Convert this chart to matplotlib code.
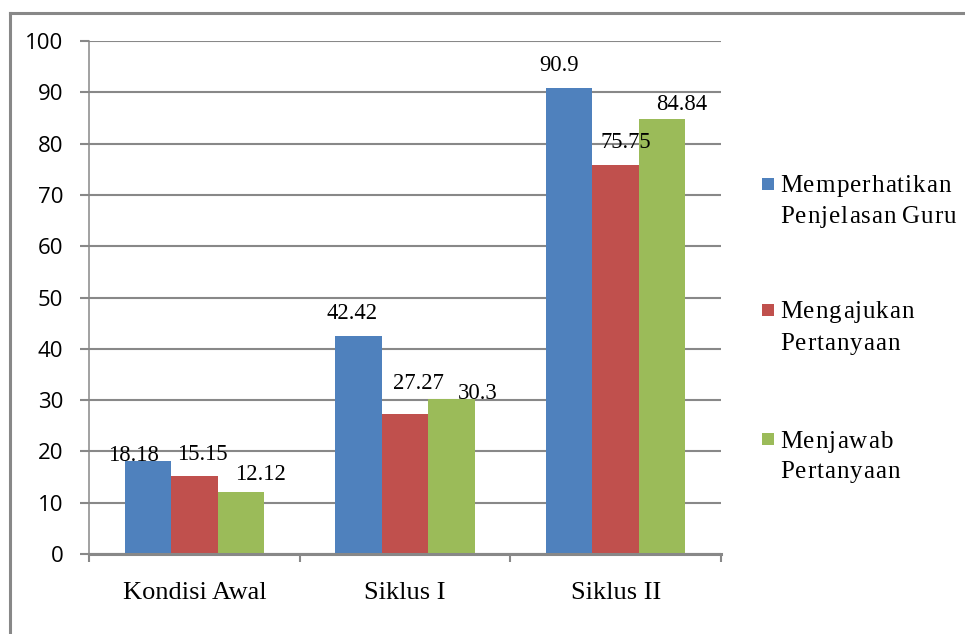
import matplotlib
matplotlib.use("Agg")
import matplotlib.pyplot as plt
from matplotlib.lines import Line2D
from matplotlib.patches import Rectangle
import numpy as np

# ---- data ----
categories = ["Kondisi Awal", "Siklus I", "Siklus II"]
series_names = ["Memperhatikan\nPenjelasan Guru", "Mengajukan\nPertanyaan", "Menjawab\nPertanyaan"]
memperhatikan = [18.18, 42.42, 90.9]
mengajukan = [15.15, 27.27, 75.75]
menjawab = [12.12, 30.3, 84.84]
y_ticks = [0, 10, 20, 30, 40, 50, 60, 70, 80, 90, 100]

series_values = [memperhatikan, mengajukan, menjawab]
colors = ["#4F81BD", "#C0504D", "#9BBB59"]

# label nudges in pixels (dx, gap above bar top) per series / category
label_nudge = [
    [(-15, 0), (-7, 17), (-10, 17)],
    [(8, 16), (13, 25), (10, 17)],
    [(20, 12), (26, 0), (20, 9)],
]

W, H, DPI = 965, 634, 100
fig = plt.figure(figsize=(W / DPI, H / DPI), dpi=DPI)
fig.patch.set_facecolor("white")

# plot area in pixel coordinates
left_px, right_px, top_px, bottom_px = 89, 721, 41, 554
ax = fig.add_axes([left_px / W, 1 - bottom_px / H,
                   (right_px - left_px) / W, (bottom_px - top_px) / H])

grid_col = "#888888"
serif = "Liberation Serif"
px2pt = 72.0 / DPI

x = np.arange(len(categories))
bar_w = 0.22
for i, (vals, col) in enumerate(zip(series_values, colors)):
    xs = x + (i - 1) * bar_w
    ax.bar(xs, vals, width=bar_w, color=col, zorder=3, linewidth=0)
    for j, (xv, v) in enumerate(zip(xs, vals)):
        dx, dy = label_nudge[i][j]
        ax.annotate(f"{v:g}", xy=(xv, v), xytext=(dx * px2pt, dy * px2pt),
                    textcoords="offset points", ha="center", va="baseline",
                    fontsize=16.3, family=serif, color="black", zorder=5)

ax.set_xlim(-0.5, len(categories) - 0.5)
ax.set_ylim(0, 100)
ax.set_yticks(y_ticks)
ax.set_yticklabels([str(t) for t in y_ticks], family="Open Sans", fontsize=16)
ax.yaxis.grid(True, color=grid_col, linewidth=1.5, zorder=0)
ax.set_axisbelow(True)

# category boundaries carry the ticks, centres carry the labels
ax.set_xticks(np.arange(-0.5, len(categories), 1.0))
ax.set_xticklabels([])
ax.set_xticks(x, minor=True)
ax.set_xticklabels(categories, minor=True, family=serif, fontsize=19)
ax.tick_params(axis="x", which="major", direction="out", length=5.5,
               width=1.5, color=grid_col)
ax.tick_params(axis="x", which="minor", length=0, pad=20)
ax.tick_params(axis="y", direction="out", length=6.5, width=1.5,
               color=grid_col, pad=12)

for s in ["top", "right"]:
    ax.spines[s].set_visible(False)
ax.spines["left"].set_color(grid_col)
ax.spines["left"].set_linewidth(1.1)
ax.spines["bottom"].set_color(grid_col)
ax.spines["bottom"].set_linewidth(2.2)
ax.spines["bottom"].set_zorder(4)

# legend drawn with slightly letter-spaced serif text
renderer = fig.canvas.get_renderer()
LEG_SIZE = 18
LEG_SPACING = 1.0


def text_width(s):
    t = fig.text(0, 0, s, family=serif, fontsize=LEG_SIZE)
    w = t.get_window_extent(renderer).width
    t.remove()
    return w


space_w = text_width("a a") - text_width("aa")


def spaced_text(x_px, base_px, s):
    xp = x_px
    for ch in s:
        if ch == " ":
            xp += space_w * 0.6 + LEG_SPACING
            continue
        t = fig.text(xp / W, 1 - base_px / H, ch, family=serif, fontsize=LEG_SIZE,
                     ha="left", va="baseline", color="black")
        xp += t.get_window_extent(renderer).width + LEG_SPACING


legend_marker_top = [178, 304, 433]
legend_baselines = [(192, 223), (318, 350), (448, 478)]
for name, col, mtop, bases in zip(series_names, colors, legend_marker_top, legend_baselines):
    fig.add_artist(Rectangle((762 / W, 1 - (mtop + 12) / H), 12 / W, 12 / H,
                             transform=fig.transFigure, color=col, linewidth=0))
    for line, b in zip(name.split("\n"), bases):
        spaced_text(780, b, line)

# outer chart border
fig.add_artist(Line2D([9.5 / W, 1.0], [1 - 12.5 / H, 1 - 12.5 / H],
                      transform=fig.transFigure, color=grid_col, linewidth=2.2))
fig.add_artist(Line2D([9.5 / W, 9.5 / W], [0.0, 1 - 12.5 / H],
                      transform=fig.transFigure, color=grid_col, linewidth=2.2))

fig.savefig("out.png", dpi=DPI, facecolor="white")
